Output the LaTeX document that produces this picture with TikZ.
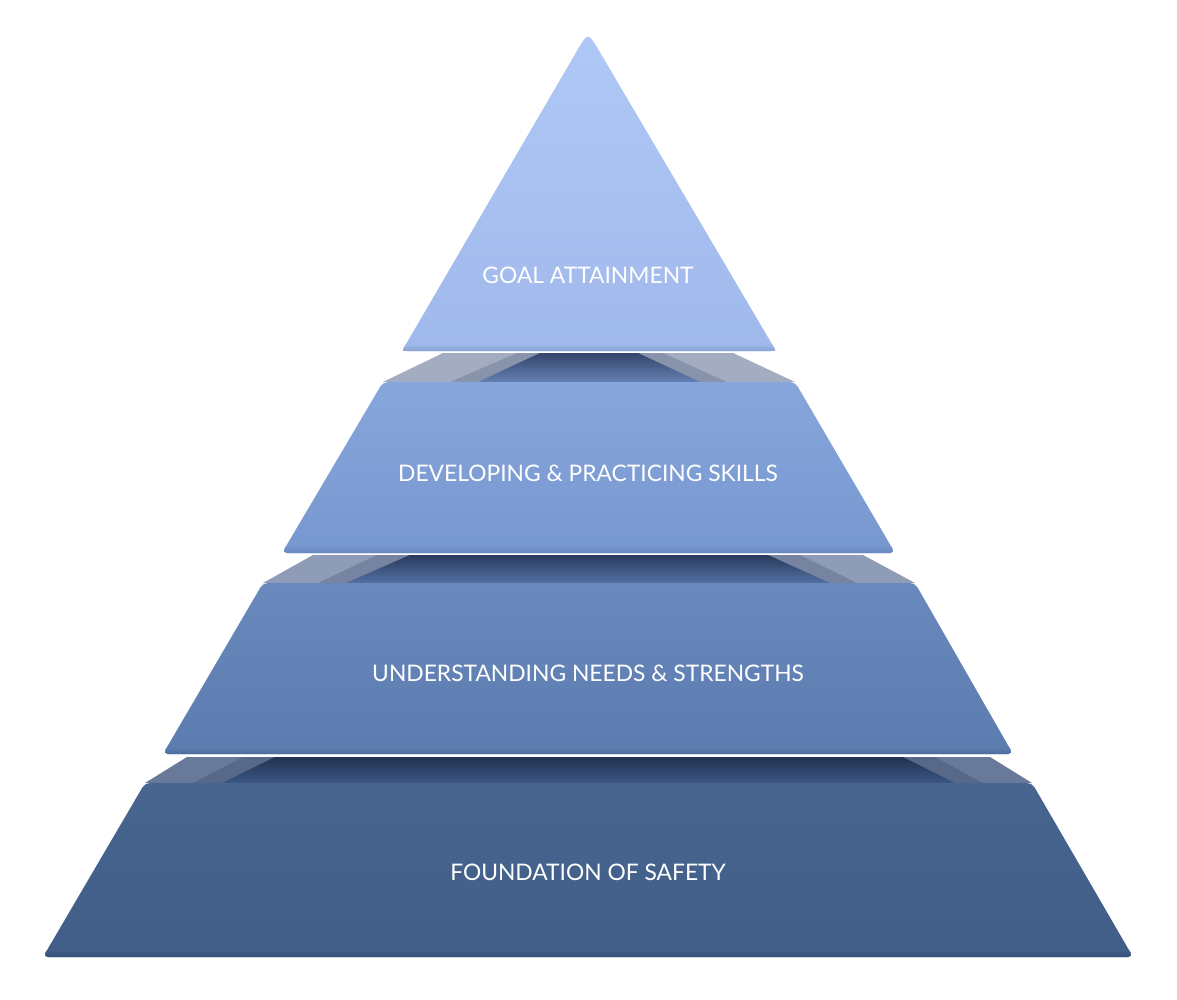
\documentclass[tikz,border=0pt]{standalone}
\usepackage{fontspec}
\setmainfont{Lato}
\definecolor{laA}{HTML}{AFC8F6}
\definecolor{laB}{HTML}{A0B9EB}
\definecolor{laE}{HTML}{869FD3}
\definecolor{lbA}{HTML}{86A6DC}
\definecolor{lbB}{HTML}{7797CF}
\definecolor{lbE}{HTML}{6583BC}
\definecolor{lcA}{HTML}{6989BC}
\definecolor{lcB}{HTML}{5C7CAF}
\definecolor{lcE}{HTML}{4C6A9C}
\definecolor{ldA}{HTML}{47658F}
\definecolor{ldB}{HTML}{415E88}
\definecolor{ldE}{HTML}{334E77}
\definecolor{sbS}{HTML}{A3ACC1}
\definecolor{scS}{HTML}{8F9CB8}
\definecolor{sdS}{HTML}{68799A}
\definecolor{sbD}{HTML}{34456A}
\definecolor{sbF}{HTML}{6480B3}
\definecolor{scD}{HTML}{2A3A5C}
\definecolor{scF}{HTML}{5270A3}
\definecolor{sdD}{HTML}{22324F}
\definecolor{sdF}{HTML}{3B5785}
\tikzset{
  label/.style={text=white, font=\fontsize{22.8}{22.8}\selectfont, inner sep=0pt, anchor=center},
  slab/.style={rounded corners=5pt},
}
\begin{document}
\begin{tikzpicture}[x=1pt,y=-1pt]
\useasboundingbox (0,0) rectangle (1177,1000);
\fill[white] (0,0) rectangle (1177,1000);

% ---------- layer 4 top face ----------
\fill[sdS] (187,757) -- (990,757) -- (1032,783) -- (145,783) -- cycle;
\fill[sdS!60!sdD, opacity=0.6] (243,757) -- (935,757) -- (983,783) -- (193,783) -- cycle;
\shade[top color=sdD, bottom color=sdF] (275,757) -- (903,757) -- (955,783) -- (222,783) -- cycle;

% ---------- layer 4 front ----------
\begin{scope}
\path[slab, clip] (145,783) -- (1032,783) -- (1133,957) -- (43,957) -- cycle;
\shade[top color=ldA, bottom color=ldB] (0,783) rectangle (1177,957);
\shade[top color=ldB, bottom color=ldE] (0,950) rectangle (1177,958);
\end{scope}

% ---------- layer 3 top face ----------
\fill[scS] (313,555) -- (863,555) -- (915,583) -- (263,583) -- cycle;
\fill[scS!60!scD, opacity=0.6] (377,555) -- (800,555) -- (857,583) -- (318,583) -- cycle;
\shade[top color=scD, bottom color=scF] (410,555) -- (768,555) -- (830,583) -- (346,583) -- cycle;

% ---------- layer 3 front ----------
\begin{scope}
\path[slab, clip] (263,583) -- (915,583) -- (1013,754) -- (163,754) -- cycle;
\shade[top color=lcA, bottom color=lcB] (0,583) rectangle (1177,754);
\shade[top color=lcB, bottom color=lcE] (0,747) rectangle (1177,755);
\end{scope}

% ---------- layer 2 top face ----------
\fill[sbS] (443,353) -- (733,353) -- (795,382) -- (383,382) -- cycle;
\fill[sbS!60!sbD, opacity=0.6] (517,353) -- (663,353) -- (727,382) -- (450,382) -- cycle;
\shade[top color=sbD, bottom color=sbF] (540,353) -- (638,353) -- (700,382) -- (478,382) -- cycle;

% ---------- layer 2 front ----------
\begin{scope}
\path[slab, clip] (383,382) -- (795,382) -- (895,553) -- (282,553) -- cycle;
\shade[top color=lbA, bottom color=lbB] (0,382) rectangle (1177,553);
\shade[top color=lbB, bottom color=lbE] (0,546) rectangle (1177,554);
\end{scope}

% ---------- layer 1 (apex) ----------
\begin{scope}
\path[clip] (407,351) .. controls (402,351) .. (404.5,346.7) -- (576.9,51) .. controls (588,32) .. (599.2,51) -- (773.5,346.7) .. controls (776,351) .. (771,351) -- cycle;
\shade[top color=laA, bottom color=laB] (0,30) rectangle (1177,351);
\shade[top color=laB, bottom color=laE] (0,344) rectangle (1177,352);
\end{scope}

% ---------- labels ----------
\node[label] (goal) at (588,275) {GOAL ATTAINMENT};
\node[label] (skills) at (588,473) {DEVELOPING \& PRACTICING SKILLS};
\node[label] (needs) at (588,673) {UNDERSTANDING NEEDS \& STRENGTHS};
\node[label] (safety) at (588,872) {FOUNDATION OF SAFETY};
\end{tikzpicture}
\end{document}
